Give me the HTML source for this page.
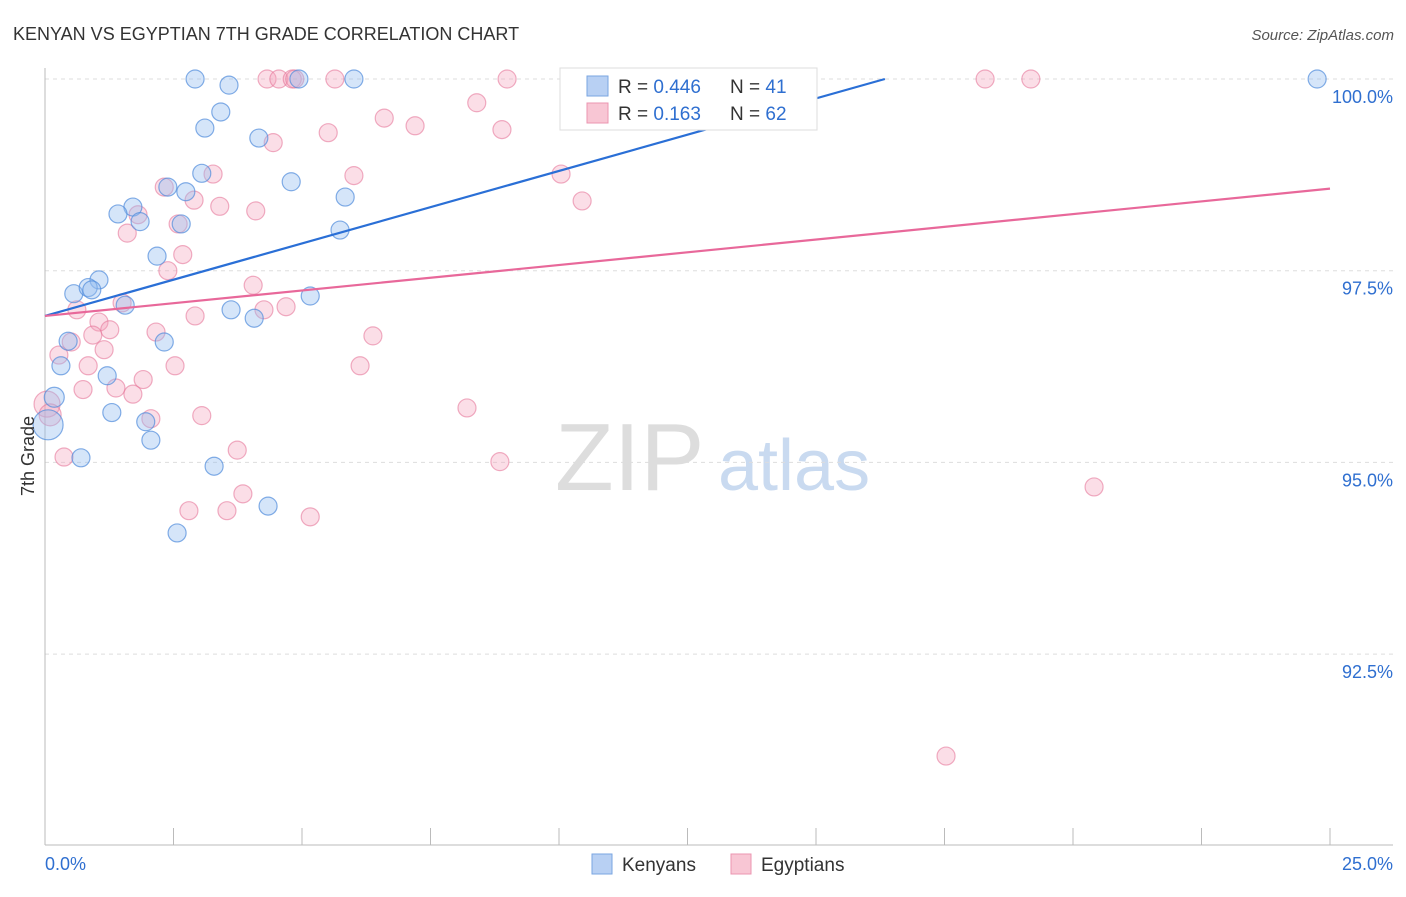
<!DOCTYPE html>
<html><head><meta charset="utf-8"><style>
body{margin:0;background:#fff;font-family:"Liberation Sans",sans-serif}
svg text{font-family:"Liberation Sans",sans-serif}
</style></head><body>
<svg id="chart" width="1406" height="892" xmlns="http://www.w3.org/2000/svg">
<text x="13" y="40" font-size="18" fill="#333">KENYAN VS EGYPTIAN 7TH GRADE CORRELATION CHART</text>
<text x="1394" y="40" font-size="15" fill="#555" font-style="italic" text-anchor="end">Source: ZipAtlas.com</text>
<text x="555" y="490" font-size="96" fill="#ddd" font-family="Liberation Serif">ZIP</text>
<text x="718" y="490" font-size="72" fill="#c9daf0">atlas</text>
<g id="grid"></g><g id="axes"></g><g id="pink"></g><g id="blue"></g><g id="lines"></g>
<g>
<rect x="560" y="68" width="257" height="62" fill="#fff" stroke="#ddd"/>
<rect x="587" y="76" width="21" height="20" fill="#b8d0f3" stroke="#7aa6e2"/>
<rect x="587" y="103" width="21" height="20" fill="#f8c6d4" stroke="#eb95b0"/>
<text x="618" y="93" font-size="19" fill="#333">R = <tspan fill="#2f6fd0">0.446</tspan></text>
<text x="730" y="93" font-size="19" fill="#333">N = <tspan fill="#2f6fd0"> 41</tspan></text>
<text x="618" y="120" font-size="19" fill="#333">R = <tspan fill="#2f6fd0"> 0.163</tspan></text>
<text x="730" y="120" font-size="19" fill="#333">N = <tspan fill="#2f6fd0">62</tspan></text>
</g>
<g>
<rect x="592" y="854" width="20" height="20" fill="#b8d0f3" stroke="#7aa6e2"/>
<text x="622" y="871" font-size="19" fill="#333">Kenyans</text>
<rect x="731" y="854" width="20" height="20" fill="#f8c6d4" stroke="#eb95b0"/>
<text x="761" y="871" font-size="19" fill="#333">Egyptians</text>
</g>
<text x="34" y="456" font-size="18" fill="#333" text-anchor="middle" transform="rotate(-90 34 456)">7th Grade</text>
<text x="45" y="870" font-size="18" fill="#2f6fd0">0.0%</text>
<text x="1393" y="870" font-size="18" fill="#2f6fd0" text-anchor="end">25.0%</text>
</svg>
<script>
const yTicks=[100,97.5,95,92.5];
const yTickLabels=["100.0%","97.5%","95.0%","92.5%"];
const xTicks=[0,2.5,5,7.5,10,12.5,15,17.5,20,22.5,25];
const blueX=[2.92,3.58,4.94,6.01,10.35,24.75,3.42,3.11,4.16,4.79,3.05,2.74,2.39,1.71,1.42,1.85,2.65,5.84,5.74,2.18,1.05,0.56,0.84,0.91,1.56,3.62,4.07,5.16,0.45,2.32,0.31,1.21,0.18,1.30,1.96,2.06,0.70,3.29,4.34,2.57,0.06];
const blueY=[100,99.92,100,100,100,100,99.57,99.36,99.23,98.66,98.77,98.53,98.59,98.33,98.24,98.14,98.11,98.46,98.03,97.69,97.38,97.20,97.28,97.25,97.05,96.99,96.88,97.17,96.58,96.57,96.26,96.13,95.85,95.65,95.53,95.29,95.06,94.95,94.43,94.08,95.49];
const blueR=[9,9,9,9,9,9,9,9,9,9,9,9,9,9,9,9,9,9,9,9,9,9,9,9,9,9,9,9,9,9,9,9,10,9,9,9,9,9,9,9,15];
const pinkX=[4.32,4.55,4.81,4.86,5.64,8.99,18.29,19.18,8.40,6.60,7.20,5.51,8.89,4.44,6.01,10.04,3.27,2.32,2.90,3.40,4.10,10.45,1.81,1.60,2.59,2.68,2.39,4.05,1.50,2.92,4.26,4.69,0.62,1.05,1.26,0.93,2.16,6.38,0.51,1.15,0.27,0.84,2.53,6.13,1.91,0.74,1.38,1.71,2.06,3.05,8.21,0.04,0.10,0.37,3.74,8.85,20.41,2.80,3.54,3.85,5.16,17.53];
const pinkY=[100,100,100,100,100,100,100,100,99.69,99.49,99.39,99.30,99.34,99.17,98.74,98.76,98.76,98.59,98.42,98.34,98.28,98.41,98.23,97.99,98.11,97.71,97.50,97.31,97.08,96.91,96.99,97.03,96.99,96.83,96.73,96.66,96.70,96.65,96.57,96.47,96.40,96.26,96.26,96.26,96.08,95.95,95.97,95.89,95.57,95.61,95.71,95.76,95.62,95.07,95.16,95.01,94.68,94.37,94.37,94.59,94.29,91.17];
const pinkR=pinkX.map((v,i)=>i==51?13:(i==52?11:9));
const blueTrend=[96.91,100,16.34];
const pinkTrend=[96.91,98.57,25];
const X=v=>45+v/25*1285, Y=v=>79+(100-v)*76.68;
const NS="http://www.w3.org/2000/svg";
function mk(t,a,p){const e=document.createElementNS(NS,t);for(const k in a)e.setAttribute(k,a[k]);p.appendChild(e);return e;}
const grid=document.getElementById('grid'),axes=document.getElementById('axes');
yTicks.forEach((v,i)=>{
 const l=mk('line',{x1:45,x2:1393,y1:Y(v),y2:Y(v),stroke:'#ddd','stroke-dasharray':'4,4'},grid);
 
 
 const t=mk('text',{x:1393,y:Y(v)+24,'font-size':18,fill:'#2f6fd0','text-anchor':'end'},grid);
 t.textContent=yTickLabels[i];
 
 
});
const ax=mk('line',{x1:45,x2:45,y1:68,y2:845,stroke:'#bbb'},axes);


const bx=mk('line',{x1:45,x2:1393,y1:845,y2:845,stroke:'#bbb'},axes);


xTicks.forEach(v=>{const t=mk('line',{x1:X(v),x2:X(v),y1:828,y2:845,stroke:'#bbb'},axes);
 
 });
const pg=document.getElementById('pink');
pinkX.forEach((v,i)=>{const c=mk('circle',{cx:X(v),cy:Y(pinkY[i]),r:pinkR[i],fill:'rgba(244,160,186,0.35)',stroke:'rgba(230,120,155,0.6)','stroke-width':1.2},pg);
 
 });
const bg=document.getElementById('blue');
blueX.forEach((v,i)=>{const c=mk('circle',{cx:X(v),cy:Y(blueY[i]),r:blueR[i],fill:'rgba(150,190,240,0.4)',stroke:'rgba(80,140,220,0.7)','stroke-width':1.2},bg);
 
 });
const lg=document.getElementById('lines');
const bl=mk('line',{x1:X(0),y1:Y(blueTrend[0]),x2:X(blueTrend[2]),y2:Y(blueTrend[1]),stroke:'#2a6fd6','stroke-width':2.2},lg);


const pl=mk('line',{x1:X(0),y1:Y(pinkTrend[0]),x2:X(pinkTrend[2]),y2:Y(pinkTrend[1]),stroke:'#e8689a','stroke-width':2.2},lg);


</script>
</body></html>
